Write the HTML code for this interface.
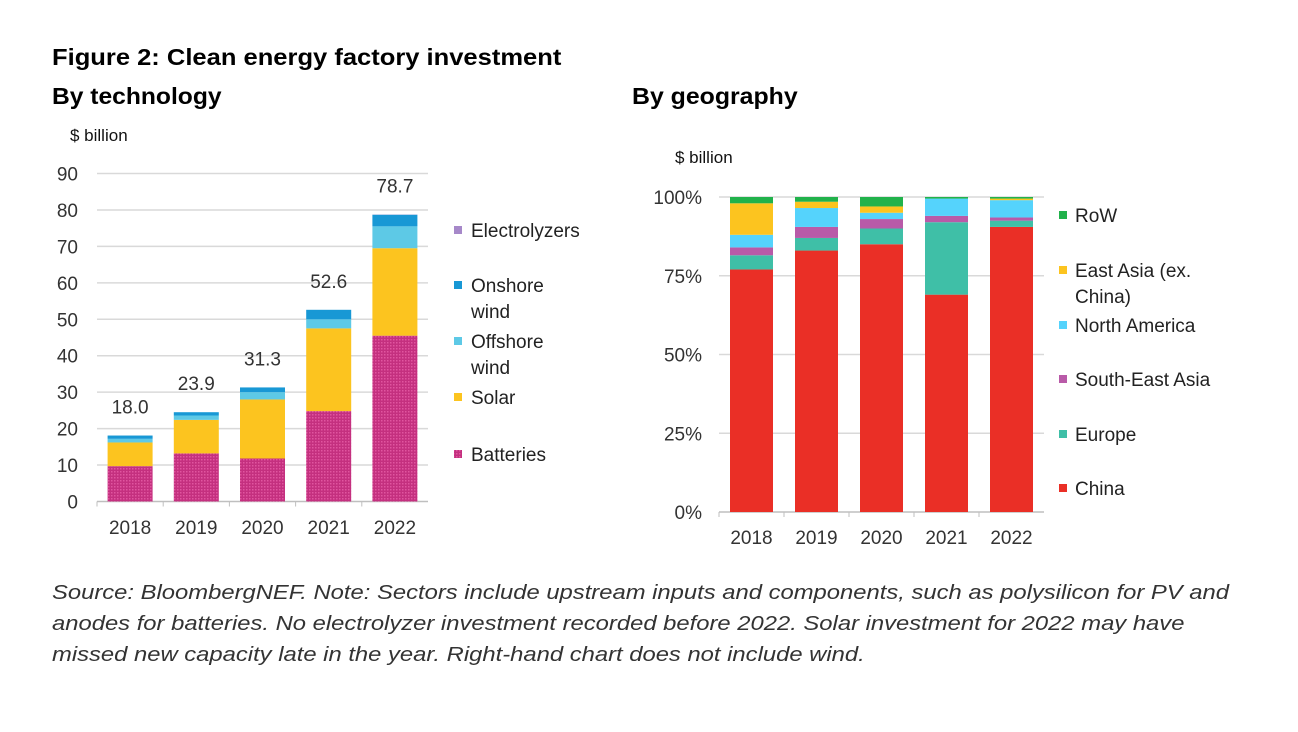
<!DOCTYPE html>
<html><head><meta charset="utf-8">
<style>
html,body{margin:0;padding:0;background:#fff;}
body{width:1298px;height:732px;position:relative;overflow:hidden;font-family:"Liberation Sans",sans-serif;}
.t{position:absolute;white-space:nowrap;color:#000;transform-origin:0 0;}
</style></head>
<body>
<div class="t" style="left:52px;top:44px;font-size:23px;font-weight:bold;transform:scaleX(1.11);">Figure 2: Clean energy factory investment</div>
<div class="t" style="left:52px;top:83px;font-size:23px;font-weight:bold;transform:scaleX(1.07);">By technology</div>
<div class="t" style="left:632px;top:83px;font-size:23px;font-weight:bold;transform:scaleX(1.08);">By geography</div>
<div class="t" style="left:52px;top:578px;font-size:20px;font-style:italic;color:#333;line-height:31px;transform:scaleX(1.19);">Source: BloombergNEF. Note: Sectors include upstream inputs and components, such as polysilicon for PV and<br>anodes for batteries. No electrolyzer investment recorded before 2022. Solar investment for 2022 may have<br>missed new capacity late in the year. Right-hand chart does not include wind.</div>
<svg id="chart" width="1298" height="732" style="position:absolute;left:0;top:0;font-family:'Liberation Sans',sans-serif;">
<defs>
<pattern id="batt" width="3" height="3" patternUnits="userSpaceOnUse">
<rect width="3" height="3" fill="#c4307f"/><rect width="1.5" height="1.5" fill="#e0559f"/>
</pattern>
</defs>
</svg>
<script>
const years = ["2018","2019","2020","2021","2022"];
const batteries = [9.7, 13.2, 11.8, 24.8, 45.5];
const solar = [6.5, 9.2, 16.2, 22.7, 24.0];
const offshore = [1.0, 1.2, 2.0, 2.5, 6.0];
const onshore = [0.9, 0.9, 1.3, 2.6, 3.2];
const electrolyzers = [0, 0, 0, 0, 0.05];
const totalLabels = ["18.0","23.9","31.3","52.6","78.7"];
const leftTicks = [0,10,20,30,40,50,60,70,80,90];

const china = [77, 83, 85, 69, 90.5];
const europe = [4.5, 4, 5, 23, 2];
const sea = [2.5, 3.5, 3, 2, 1];
const northAmerica = [4, 6, 2, 5.5, 5.5];
const eastAsia = [10, 2, 2, 0, 0.5];
const row = [2, 1.5, 3, 0.5, 0.5];
const rightTicks = [0,25,50,75,100];
const rightTickLabels = ["0%","25%","50%","75%","100%"];

const svg = document.getElementById('chart');
const NS = 'http://www.w3.org/2000/svg';
function mk(tag, attrs, parent){const e=document.createElementNS(NS,tag);for(const k in attrs)e.setAttribute(k,attrs[k]);(parent||svg).appendChild(e);return e;}
function txt(s, attrs){const e=mk('text',attrs);e.textContent=s;return e;}

// Left chart
const L = {x0:97, x1:428, y0:501.5, y90:173.5};
const ly = v => L.y0 - (v/90)*(L.y0-L.y90);
const lband = (L.x1-L.x0)/years.length;
const lx = i => L.x0 + lband*(i+0.5);
const lbw = 45;
let t = txt('$ billion',{x:70,y:141,'font-size':17,fill:'#111'});

leftTicks.forEach(v=>{
  if(v>0){const g=mk('line',{x1:L.x0,x2:L.x1,y1:ly(v),y2:ly(v),stroke:'#d9d9d9','stroke-width':1.5});
  }
  const e=txt(String(v),{x:78,y:ly(v)+7,'font-size':19,'text-anchor':'end',fill:'#333'});
  
});
let ax=mk('line',{x1:L.x0,x2:L.x1,y1:L.y0,y2:L.y0,stroke:'#bfbfbf','stroke-width':1.5});

const lSeries=[[batteries,'url(#batt)','battery'],[solar,'#fcc41f','solar'],[offshore,'#5dc9e6','offshore-wind'],[onshore,'#1898d5','onshore-wind'],[electrolyzers,'#a688c9','electrolyzer']];
years.forEach((y,i)=>{
  let acc=0;
  lSeries.forEach(([arr,col,nm])=>{
    const v=arr[i];
    const r=mk('rect',{x:lx(i)-lbw/2,y:ly(acc+v),width:lbw,height:Math.max(0,ly(acc)-ly(acc+v)),fill:col});
    
    acc+=v;
  });
  const lab=txt(totalLabels[i],{x:lx(i),y:ly(acc)-22,'font-size':19,'text-anchor':'middle',fill:'#333'});
  
  const xl=txt(y,{x:lx(i),y:534,'font-size':19,'text-anchor':'middle',fill:'#333'});
  
  const tk=mk('line',{x1:L.x0+lband*i,x2:L.x0+lband*i,y1:L.y0,y2:L.y0+5,stroke:'#bfbfbf'});
  
});
const lLegend=[['Electrolyzers','#a688c9',230],['Onshore','#1898d5',285,'wind'],['Offshore','#5dc9e6',341,'wind'],['Solar','#fcc41f',397],['Batteries','url(#batt)',454]];
lLegend.forEach(([n,c,yy,n2])=>{
  const m=mk('rect',{x:454,y:yy-4,width:8,height:8,fill:c});
  
  const e=txt(n,{x:471,y:yy+7,'font-size':19,fill:'#222'});
  
  if(n2){const e2=txt(n2,{x:471,y:yy+33,'font-size':19,fill:'#222'});
  }
});

// Right chart
const R = {x0:719, x1:1044, y0:512, y100:197};
const ry = v => R.y0 - (v/100)*(R.y0-R.y100);
const rband=(R.x1-R.x0)/years.length;
const rx = i => R.x0 + rband*(i+0.5);
const rbw=43;
t=txt('$ billion',{x:675,y:163,'font-size':17,fill:'#111'});

rightTicks.forEach((v,k)=>{
  if(v>0){const g=mk('line',{x1:R.x0,x2:R.x1,y1:ry(v),y2:ry(v),stroke:'#d9d9d9','stroke-width':1.5});
  }
  const e=txt(rightTickLabels[k],{x:702,y:ry(v)+7,'font-size':19,'text-anchor':'end',fill:'#333'});
  
});
ax=mk('line',{x1:R.x0,x2:R.x1,y1:R.y0,y2:R.y0,stroke:'#bfbfbf','stroke-width':1.5});

const rSeries=[[china,'#ea2f26','china'],[europe,'#3fbfa7','europe'],[sea,'#b95aa8','south-east-asia'],[northAmerica,'#55d3fc','north-america'],[eastAsia,'#fcc41f','east-asia'],[row,'#21b24b','row']];
years.forEach((y,i)=>{
  let acc=0;
  rSeries.forEach(([arr,col,nm])=>{
    const v=arr[i];
    const r=mk('rect',{x:rx(i)-rbw/2,y:ry(acc+v),width:rbw,height:Math.max(0,ry(acc)-ry(acc+v)),fill:col});
    
    acc+=v;
  });
  const xl=txt(y,{x:rx(i),y:544,'font-size':19,'text-anchor':'middle',fill:'#333'});
  
  const tk=mk('line',{x1:R.x0+rband*i,x2:R.x0+rband*i,y1:R.y0,y2:R.y0+5,stroke:'#bfbfbf'});
  
});
const rLegend=[['RoW','#21b24b',215],['East Asia (ex.','#fcc41f',270,'China)'],['North America','#55d3fc',325],['South-East Asia','#b95aa8',379],['Europe','#3fbfa7',434],['China','#ea2f26',488]];
rLegend.forEach(([n,c,yy,n2])=>{
  const m=mk('rect',{x:1059,y:yy-4,width:8,height:8,fill:c});
  
  const e=txt(n,{x:1075,y:yy+7,'font-size':19,fill:'#222'});
  
  if(n2){const e2=txt(n2,{x:1075,y:yy+33,'font-size':19,fill:'#222'});
  }
});
</script>
</body></html>
